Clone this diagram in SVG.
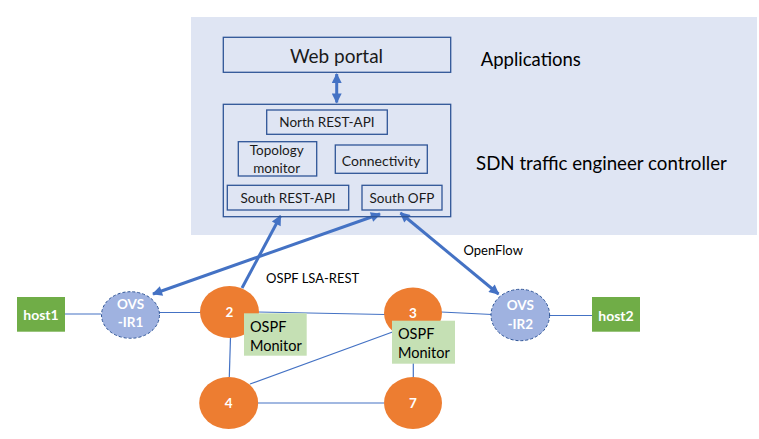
<svg xmlns="http://www.w3.org/2000/svg" width="759" height="439" viewBox="0 0 759 439">
<style>
text{font-family:Lato,"Open Sans","Liberation Sans",sans-serif;}
.box{fill:none;stroke:#2f5597;stroke-width:1.3;}
.t{fill:#1a1a1a;text-anchor:middle;dominant-baseline:central;}
.lbl{fill:#000;dominant-baseline:central;}
.link{stroke:#4472c4;stroke-width:1.2;fill:none;}
.thick{stroke:#4472c4;stroke-width:3;fill:none;}
.router{fill:#ed7d31;}
.ovs{fill:#9fb2e0;stroke:#2f5597;stroke-width:1;stroke-dasharray:3 2;}
.host{fill:#70ad47;}
.mon{fill:#c5e0b4;}
.w{fill:#fff;font-weight:bold;text-anchor:middle;dominant-baseline:central;}
</style>
<defs>
<marker id="ah" viewBox="0 0 10 10" refX="9" refY="5" markerWidth="12" markerHeight="10" markerUnits="userSpaceOnUse" orient="auto-start-reverse">
<path d="M0,0 L10,5 L0,10 z" fill="#4472c4"/>
</marker>
</defs>
<rect width="759" height="439" fill="#fff"/>
<rect id="panel" x="191" y="17" width="566" height="218" fill="#dfe5f3"/>

<g id="connectors">
<line class="link" x1="65" y1="314" x2="101" y2="314"/>
<line class="link" x1="159" y1="312.5" x2="201" y2="312.5"/>
<line class="link" x1="258" y1="312" x2="385" y2="314.5"/>
<line class="link" x1="441" y1="312" x2="492" y2="314.5"/>
<line class="link" x1="549" y1="315.5" x2="592" y2="315.5"/>
<line class="link" x1="230.5" y1="337" x2="229.3" y2="377"/>
<line class="link" x1="250" y1="384" x2="398" y2="330"/>
<line class="link" x1="258" y1="403" x2="384" y2="403"/>
<line class="link" x1="413.3" y1="338" x2="413.3" y2="378"/>
<line class="thick" x1="336.7" y1="74" x2="336.7" y2="102.5" marker-start="url(#ah)" marker-end="url(#ah)"/>
<line class="thick" x1="242" y1="288" x2="280.5" y2="216" marker-end="url(#ah)"/>
<line class="thick" x1="153" y1="294" x2="380" y2="214" marker-start="url(#ah)" marker-end="url(#ah)"/>
<line class="thick" x1="400.5" y1="213" x2="498.5" y2="294" marker-start="url(#ah)" marker-end="url(#ah)"/>
</g>

<g id="web-portal">
<rect class="box" x="223.3" y="37.3" width="227.4" height="35"/>
<text class="t" x="336.5" y="55.5" font-size="19">Web portal</text>
</g>
<text class="lbl" x="480.7" y="58.5" font-size="18.5">Applications</text>

<g id="controller">
<rect class="box" x="223.3" y="104.3" width="227.4" height="112.4"/>
</g>
<g id="north-rest-api">
<rect class="box" x="266.7" y="110" width="120.6" height="24.3"/>
<text class="t" x="327" y="122.3" font-size="13.5">North REST-API</text>
</g>
<g id="topology-monitor">
<rect class="box" x="238.3" y="141.7" width="78.4" height="34.3"/>
<text class="t" x="276.7" y="150" font-size="13.5">Topology</text>
<text class="t" x="276.7" y="168.3" font-size="13.5">monitor</text>
</g>
<g id="connectivity">
<rect class="box" x="335.3" y="145" width="92" height="28.3"/>
<text class="t" x="381" y="160.5" font-size="14">Connectivity</text>
</g>
<g id="south-rest-api">
<rect class="box" x="227.3" y="185.3" width="121.4" height="24.7"/>
<text class="t" x="288" y="197.7" font-size="13.5">South REST-API</text>
</g>
<g id="south-ofp">
<rect class="box" x="362" y="185.3" width="80" height="24.7"/>
<text class="t" x="402" y="197.7" font-size="13.5">South OFP</text>
</g>
<text class="lbl" x="476" y="162.5" font-size="18.7">SDN traffic engineer controller</text>

<text class="lbl" x="266" y="278" font-size="13">OSPF LSA-REST</text>
<text class="lbl" x="463.5" y="249.5" font-size="13">OpenFlow</text>

<g id="host1">
<rect class="host" x="17" y="297" width="48" height="34.7"/>
<text class="w" x="41" y="314.5" font-size="14">host1</text>
</g>
<g id="ovs-ir1">
<ellipse class="ovs" cx="130.5" cy="315" rx="29" ry="23.3"/>
<text class="w" x="130.5" y="303.5" font-size="13.5">OVS</text>
<text class="w" x="130.5" y="322" font-size="13.5">-IR1</text>
</g>
<g id="r2">
<ellipse class="router" cx="229.5" cy="312" rx="29.5" ry="26"/>
<text class="w" x="229.5" y="312" font-size="13.5">2</text>
</g>
<g id="r3">
<ellipse class="router" cx="413" cy="313" rx="29" ry="25.5"/>
<text class="w" x="413" y="313" font-size="13.5">3</text>
</g>
<g id="r4">
<ellipse class="router" cx="228.7" cy="403" rx="29.5" ry="26"/>
<text class="w" x="228.7" y="403" font-size="13.5">4</text>
</g>
<g id="r7">
<ellipse class="router" cx="413" cy="403" rx="29" ry="26"/>
<text class="w" x="413" y="403" font-size="13.5">7</text>
</g>
<g id="ospf-monitor-2">
<rect class="mon" x="244" y="313.3" width="62.7" height="42.4"/>
<text class="lbl" x="250" y="326.5" font-size="14.5">OSPF</text>
<text class="lbl" x="250" y="345" font-size="14.5">Monitor</text>
</g>
<g id="ospf-monitor-3">
<rect class="mon" x="392" y="320.7" width="63" height="43"/>
<text class="lbl" x="398" y="333.5" font-size="14.5">OSPF</text>
<text class="lbl" x="398" y="352.5" font-size="14.5">Monitor</text>
</g>
<g id="ovs-ir2">
<ellipse class="ovs" cx="520.3" cy="315" rx="29.3" ry="25.7"/>
<text class="w" x="520.3" y="305" font-size="13.5">OVS</text>
<text class="w" x="520.3" y="324" font-size="13.5">-IR2</text>
</g>
<g id="host2">
<rect class="host" x="592" y="297" width="48" height="34.7"/>
<text class="w" x="616" y="315" font-size="14">host2</text>
</g>
</svg>
